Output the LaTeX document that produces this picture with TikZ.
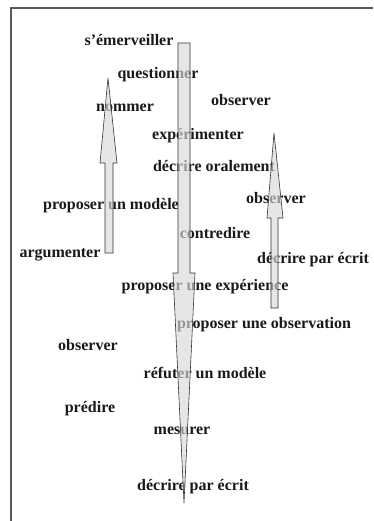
\documentclass[tikz,border=0pt]{standalone}
\usepackage{fontspec}
\setmainfont{Liberation Serif}
\usepackage{tikz}
\usetikzlibrary{positioning}
\tikzstyle{verbe} = [inner sep=0pt, anchor=base, font=\fontsize{16}{19}\selectfont\bfseries, text=black!90]
\tikzstyle{fleche} = [draw=black!80, fill=gray!30, fill opacity=0.65, line width=0.6pt, line join=miter]
\tikzstyle{cadre} = [draw=black!65, line width=1.4pt]

\begin{document}
\begin{tikzpicture}[x=1pt, y=-1pt]
        \useasboundingbox (0,0) rectangle (373,521);
        \draw [cadre] (11,521) -- (11,8) -- (373,8);

        \node (emerv) [verbe] at (129,46) {s’émerveiller};
        \node (quest) [verbe] at (158,79) {questionner};
        \node (obsA) [verbe] at (241,106) {observer};
        \node (nommer) [verbe] at (125,112) {nommer};
        \node (exper) [verbe] at (198,140) {expérimenter};
        \node (oral) [verbe] at (214,172) {décrire oralement};
        \node (obsB) [verbe] at (276,204) {observer};
        \node (modele) [verbe] at (111,210) {proposer un modèle};
        \node (contre) [verbe] at (215,238) {contredire};
        \node (argu) [verbe] at (60,257) {argumenter};
        \node (ecritA) [verbe] at (313,263) {décrire par écrit};
        \node (propexp) [verbe] at (205,290) {proposer une expérience};
        \node (propobs) [verbe] at (264,328) {proposer une observation};
        \node (obsC) [verbe] at (88,350) {observer};
        \node (refut) [verbe] at (205,378) {réfuter un modèle};
        \node (predire) [verbe] at (90,412) {prédire};
        \node (mesurer) [verbe] at (182,434) {mesurer};
        \node (ecritB) [verbe] at (193,490) {décrire par écrit};

        % grande fleche vers le bas
        \draw [fleche] (178,43) -- (190,43) -- (190,273) -- (195,273) -- (184,503) -- (173,273) -- (178,273) -- cycle;
        % fleche de gauche
        \draw [fleche] (105,253) -- (105,163) -- (100,163) -- (108,78) -- (117,163) -- (113,163) -- (113,253) -- cycle;
        % fleche de droite
        \draw [fleche] (271,308) -- (271,218) -- (267,218) -- (274,133) -- (283,218) -- (278,218) -- (278,308) -- cycle;
    \end{tikzpicture}
\end{document}
